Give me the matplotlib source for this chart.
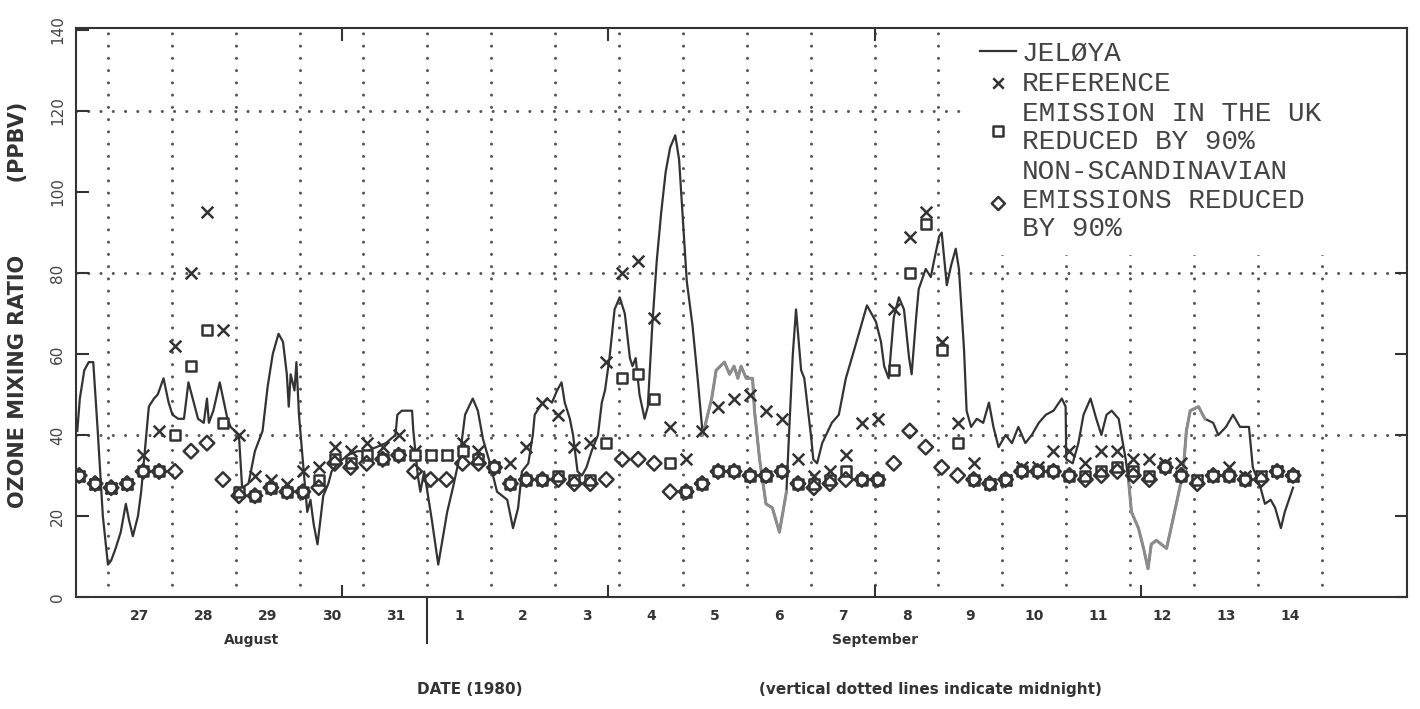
import matplotlib
matplotlib.use("Agg")
import matplotlib.pyplot as plt
import matplotlib.transforms as mtransforms
import numpy as np

# ---- data (days: 27 = 27 Aug 00:00, 32 = 1 Sep 00:00) ----
line_days = [26.52, 26.56, 26.63, 26.70, 26.77, 26.84, 26.92, 27.00, 27.05, 27.12,
             27.20, 27.28, 27.33, 27.39, 27.47, 27.52, 27.56, 27.64, 27.72, 27.78,
             27.87, 27.95, 28.01, 28.10, 28.19, 28.26, 28.41, 28.50, 28.55, 28.58,
             28.65, 28.75, 28.87, 28.92, 29.05, 29.10, 29.20, 29.30, 29.42, 29.50,
             29.58, 29.67, 29.74, 29.80, 29.83, 29.86, 29.92, 29.95, 29.99, 30.07,
             30.12, 30.17, 30.22, 30.28, 30.37, 30.45, 30.50, 30.60, 30.75, 30.90,
             31.05, 31.20, 31.35, 31.50, 31.53, 31.60, 31.76, 31.78, 31.85, 31.89,
             31.95, 31.98, 32.07, 32.17, 32.31, 32.40, 32.51, 32.59, 32.71, 32.79,
             32.87, 32.98, 33.09, 33.25, 33.34, 33.42, 33.48, 33.58, 33.65, 33.68,
             33.76, 33.87, 33.95, 34.03, 34.10, 34.15, 34.23, 34.28, 34.35, 34.42,
             34.49, 34.57, 34.67, 34.73, 34.78, 34.85, 34.93, 35.01, 35.09, 35.17,
             35.21, 35.26, 35.32, 35.40, 35.45, 35.52, 35.59, 35.66, 35.73, 35.80,
             35.88, 35.94, 36.00, 36.06, 36.15, 36.23, 36.31, 36.45, 36.52, 36.65,
             36.73, 36.80, 36.86, 36.91, 36.99, 37.09, 37.12, 37.20, 37.30, 37.40,
             37.51, 37.62, 37.66, 37.72, 37.77, 37.85, 37.90, 38.01, 38.04, 38.10,
             38.18, 38.33, 38.44, 38.55, 38.68, 38.88, 39.02, 39.10, 39.15, 39.22,
             39.30, 39.38, 39.46, 39.54, 39.58, 39.65, 39.69, 39.80, 39.88, 39.93,
             40.01, 40.05, 40.13, 40.20, 40.27, 40.32, 40.40, 40.44, 40.51, 40.60,
             40.70, 40.79, 40.86, 40.94, 41.05, 41.15, 41.25, 41.36, 41.46, 41.57,
             41.68, 41.80, 41.93, 41.99, 42.00, 42.10, 42.19, 42.27, 42.38, 42.47,
             42.55, 42.63, 42.71, 42.82, 42.93, 42.98, 43.02, 43.13, 43.21, 43.28,
             43.33, 43.41, 43.49, 43.57, 43.64, 43.75, 43.83, 43.88, 43.94, 44.07,
             44.17, 44.30, 44.38, 44.50, 44.61, 44.72, 44.81, 44.86, 44.92, 45.04,
             45.11, 45.20, 45.27, 45.36, 45.42, 45.55]
line_ppb = [41, 49, 56, 58, 58, 41, 20, 8, 9, 12,
            16, 23, 19, 15, 20, 26, 33, 47, 49, 50,
            54, 48, 45, 44, 44, 53, 44, 43, 49, 43,
            46, 53, 44, 42, 40, 27, 28, 36, 41, 52,
            60, 65, 63, 55, 47, 55, 51, 58, 45, 30,
            21, 24, 18, 13, 25, 28, 31, 33, 35, 36,
            36, 37, 38, 40, 45, 46, 46, 41, 30, 26,
            31, 28, 19, 8, 21, 27, 35, 45, 49, 46,
            39, 33, 26, 24, 17, 22, 31, 33, 40, 45,
            47, 49, 48, 51, 53, 48, 44, 40, 31, 30,
            32, 36, 40, 48, 51, 59, 71, 74, 70, 59,
            57, 59, 50, 44, 47, 67, 83, 95, 105, 111,
            114, 108, 93, 78, 67, 54, 40, 49, 56, 58,
            55, 57, 54, 57, 54, 54, 46, 34, 23, 22,
            16, 26, 40, 60, 71, 56, 54, 39, 34, 33,
            38, 43, 45, 54, 61, 72, 68, 63, 57, 54,
            69, 74, 71, 59, 55, 69, 76, 81, 79, 83,
            89, 90, 77, 82, 86, 81, 61, 46, 42, 44,
            43, 48, 42, 37, 40, 38, 42, 38, 40, 43,
            45, 46, 49, 47, 34, 33, 38, 45, 49, 44,
            40, 45, 46, 44, 34, 28, 21, 17, 12, 7,
            13, 14, 13, 12, 17, 25, 31, 41, 46, 47,
            44, 43, 40, 42, 45, 42, 42, 42, 32, 27,
            23, 24, 22, 17, 21, 27]
# stretches of the JELOYA trace printed lighter in the original
grey_spans = [(36.31, 37.63), (42.95, 44.2)]

model_days = [26.55, 26.80, 27.05, 27.30, 27.55, 27.80, 28.05, 28.30, 28.55, 28.80,
              29.05, 29.30, 29.55, 29.80, 30.05, 30.30, 30.55, 30.80, 31.05, 31.30,
              31.55, 31.80, 32.05, 32.30, 32.55, 32.80, 33.05, 33.30, 33.55, 33.80,
              34.05, 34.30, 34.55, 34.80, 35.05, 35.30, 35.55, 35.80, 36.05, 36.30,
              36.55, 36.80, 37.05, 37.30, 37.55, 37.80, 38.05, 38.30, 38.55, 38.80,
              39.05, 39.30, 39.55, 39.80, 40.05, 40.30, 40.55, 40.80, 41.05, 41.30,
              41.55, 41.80, 42.05, 42.30, 42.55, 42.80, 43.05, 43.30, 43.55, 43.80,
              44.05, 44.30, 44.55, 44.80, 45.05, 45.30, 45.55]
reference = [30, 28, 27, 28, 35, 41, 62, 80, 95, 66,
             40, 30, 29, 28, 31, 32, 37, 36, 38, 37,
             40, 36, 35, 35, 38, 36, 32, 33, 37, 48,
             45, 37, 38, 58, 80, 83, 69, 42, 34, 41,
             47, 49, 50, 46, 44, 34, 30, 31, 35, 43,
             44, 71, 89, 95, 63, 43, 33, 28, 29, 32,
             32, 36, 36, 33, 36, 36, 34, 34, 33, 33,
             29, 30, 32, 30, 30, 31, 30]
uk_reduced = [30, 28, 27, 28, 31, 31, 40, 57, 66, 43,
              26, 25, 27, 26, 26, 29, 34, 33, 35, 34,
              35, 35, 35, 35, 36, 34, 32, 28, 29, 29,
              30, 29, 29, 38, 54, 55, 49, 33, 26, 28,
              31, 31, 30, 30, 31, 28, 28, 29, 31, 29,
              29, 56, 80, 92, 61, 38, 29, 28, 29, 31,
              31, 31, 30, 30, 31, 32, 31, 30, 32, 30,
              29, 30, 30, 29, 30, 31, 30]
nonscand_reduced = [30, 28, 27, 28, 31, 31, 31, 36, 38, 29,
                    25, 25, 27, 26, 26, 27, 33, 32, 33, 34,
                    35, 31, 29, 29, 33, 33, 32, 28, 29, 29,
                    29, 28, 28, 29, 34, 34, 33, 26, 26, 28,
                    31, 31, 30, 30, 31, 28, 27, 28, 29, 29,
                    29, 33, 41, 37, 32, 30, 29, 28, 29, 31,
                    31, 31, 30, 29, 30, 31, 30, 29, 32, 30,
                    28, 30, 30, 29, 29, 31, 30]

day_labels = ["27", "28", "29", "30", "31", "1", "2", "3", "4", "5",
              "6", "7", "8", "9", "10", "11", "12", "13", "14"]
day_centres = [27.5, 28.5, 29.5, 30.5, 31.5, 32.5, 33.5, 34.5, 35.5, 36.5,
               37.5, 38.5, 39.5, 40.5, 41.5, 42.5, 43.5, 44.5, 45.5]

# ---- plot ----
ink = "#333333"
start = 26.5                 # 26 Aug 12:00, left edge of the frame
end = start + 500 / 24.0     # frame spans 500 hours

fig = plt.figure(figsize=(14.2, 7.09), dpi=100)
ax = fig.add_axes([76 / 1420, 112 / 709, 1331 / 1420, 569 / 709])

# dotted guides: midnights and every 40 ppbv
for d in range(27, 47):
    ax.axvline(d, color="#555555", lw=2.2, ls=(0, (0.01, 4.0)),
               dash_capstyle="round", zorder=1)
for y in (40, 80, 120):
    ax.axhline(y, color="#555555", lw=2.2, ls=(0, (0.01, 4.0)),
               dash_capstyle="round", zorder=1)

days = np.array(line_days)
ppb = np.array(line_ppb, dtype=float)
jel, = ax.plot(days, ppb, color=ink, lw=1.6, zorder=3)
for lo, hi in grey_spans:
    m = (days >= lo) & (days <= hi)
    ax.plot(days[m], ppb[m], color="#8c8c8c", lw=2.2, zorder=3.5)

ref = ax.scatter(model_days, reference, marker="x", s=70, color=ink,
                 linewidths=1.8, zorder=4)
uk = ax.scatter(model_days, uk_reduced, marker="s", s=55, facecolors="white",
                edgecolors=ink, linewidths=1.8, zorder=5)
ns = ax.scatter(model_days, nonscand_reduced, marker="D", s=55, facecolors="none",
                edgecolors=ink, linewidths=1.8, zorder=6)

ax.set_xlim(start, end)
ax.set_ylim(0, 140.5)

for sp in ax.spines.values():
    sp.set_color(ink)
    sp.set_linewidth(1.5)
    sp.set_zorder(12)

ax.set_yticks(range(0, 141, 20))
ax.set_yticklabels([str(v) for v in range(0, 141, 20)], rotation=90, va="center",
                   fontsize=11, color="#444444")
ax.tick_params(axis="y", direction="in", length=9, width=1.5, color=ink,
               left=True, right=True, pad=8)

ax.set_xticks(day_centres)
ax.set_xticklabels(day_labels, fontsize=10, fontweight="bold", color=ink)
ax.tick_params(axis="x", which="major", length=0, pad=9)
ax.set_xticks([start + 100 / 24.0 * k for k in range(1, 5)], minor=True)
ax.tick_params(axis="x", which="minor", direction="in", length=9, width=1.5,
               color=ink, top=True, bottom=True)

ax.set_ylabel("OZONE MIXING RATIO          (PPBV)", fontsize=15, fontweight="bold",
              color=ink)
ax.yaxis.set_label_coords(-0.036, 0.513)

# month separator and month names under the axis
trans = mtransforms.blended_transform_factory(ax.transData, ax.transAxes)
ax.plot([32, 32], [0, -0.08], transform=trans, color=ink, lw=1.5, clip_on=False)
ax.text(29.25, -0.075, "August", transform=trans, ha="center", va="center",
        fontsize=10, fontweight="bold", color=ink)
ax.text(39.0, -0.075, "September", transform=trans, ha="center", va="center",
        fontsize=10, fontweight="bold", color=ink)

ax.text(0.296, -0.163, "DATE (1980)", transform=ax.transAxes, ha="center",
        va="center", fontsize=11, fontweight="bold", color=ink)
ax.text(0.642, -0.163, "(vertical dotted lines indicate midnight)",
        transform=ax.transAxes, ha="center", va="center", fontsize=11,
        fontweight="bold", color=ink)

# legend sits on a white patch reaching the right frame, hiding the dotted guides
leg = ax.legend([jel, ref, uk, ns],
                ["JELØYA", "REFERENCE", "EMISSION IN THE UK\nREDUCED BY 90%",
                 "NON-SCANDINAVIAN\nEMISSIONS REDUCED\nBY 90%"],
                loc="upper left", bbox_to_anchor=(0.67, 0.0, 0.33, 1.0),
                mode="expand", frameon=True,
                facecolor="white", edgecolor="none", framealpha=1.0,
                fancybox=False,
                prop={"family": "Liberation Mono", "size": 20},
                handlelength=1.3, handletextpad=0.2, labelspacing=0.15,
                borderpad=0.45, borderaxespad=0.0, markerscale=0.9)
leg.set_zorder(10)
for t in leg.get_texts():
    t.set_color("#444444")
    t.set_linespacing(1.12)

fig.savefig("out.png", dpi=100)
